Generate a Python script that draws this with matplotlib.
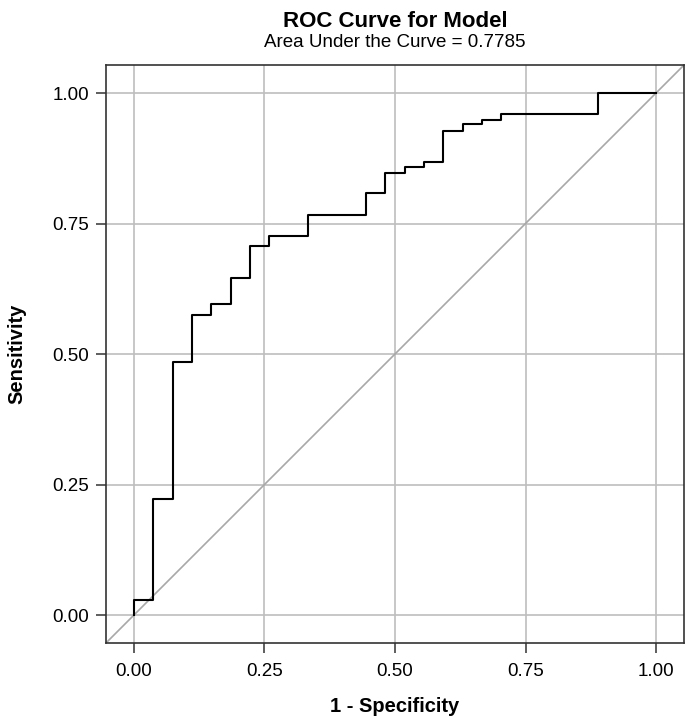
import numpy as np
import matplotlib.pyplot as plt

plt.rcParams['font.family'] = ['Liberation Sans', 'DejaVu Sans']

# ROC curve points (1 - specificity, sensitivity), step function
fpr = [0.0, 0.0, 1/27, 2/27, 3/27, 4/27, 5/27, 6/27, 7/27, 9/27, 12/27, 13/27,
       14/27, 15/27, 16/27, 17/27, 18/27, 19/27, 24/27, 1.0]
tpr = [0.0, 0.029, 0.222, 0.484, 0.574, 0.595, 0.646, 0.706, 0.727, 0.766, 0.808,
       0.846, 0.858, 0.868, 0.927, 0.940, 0.948, 0.960, 1.0, 1.0]
ticks = [0.0, 0.25, 0.5, 0.75, 1.0]
tick_labels = ['0.00', '0.25', '0.50', '0.75', '1.00']
auc = 0.7785

fig = plt.figure(figsize=(6.94, 7.25), dpi=100)
ax = fig.add_axes([0.1527, 0.1131, 0.8329, 0.7972])

ax.grid(True, color='#bebebe', lw=1.2)
ax.set_axisbelow(True)
ax.axline((0, 0), slope=1, color='#a8a8a8', lw=1.2)
ax.plot(fpr, tpr, color='black', lw=1.5, drawstyle='steps-post')

ax.set_xlim(-0.0536, 1.0536)
ax.set_ylim(-0.0536, 1.0536)
ax.set_xticks(ticks)
ax.set_xticklabels(tick_labels)
ax.set_yticks(ticks)
ax.set_yticklabels(tick_labels)
ax.tick_params(labelsize=13.5, color='#333333', length=7, width=1.1,
               labelcolor='black', pad=5)
ax.tick_params(axis='x', pad=7.5)
for s in ax.spines.values():
    s.set_color('#333333')
    s.set_linewidth(1.2)

ax.set_xlabel('1 - Specificity', fontsize=14.5, fontweight='bold', labelpad=12)
ax.set_ylabel('Sensitivity', fontsize=14.5, fontweight='bold', labelpad=19)

fig.text(0.569, 0.970, 'ROC Curve for Model', ha='center', va='center',
         fontsize=16, fontweight='bold')
fig.text(0.569, 0.942, 'Area Under the Curve = %.4f' % auc, ha='center', va='center',
         fontsize=13.5)

fig.savefig('out.png', dpi=100)
